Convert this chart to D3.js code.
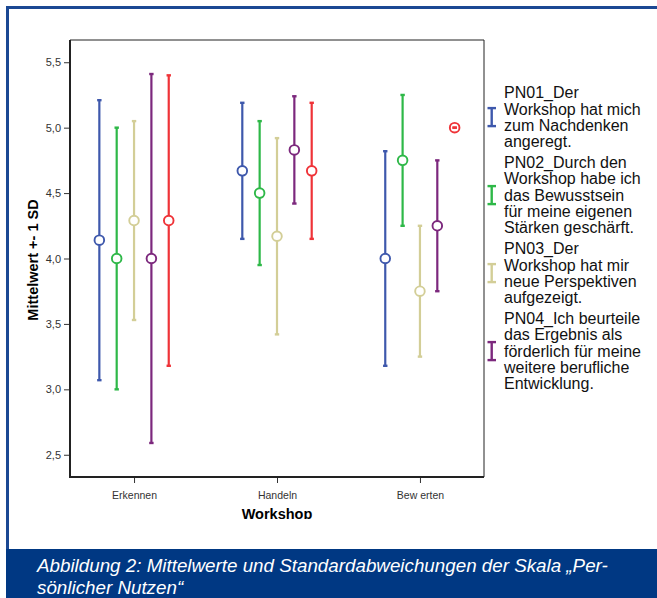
<!DOCTYPE html>
<html>
<head>
<meta charset="utf-8">
<script src="https://cdn.jsdelivr.net/npm/d3@7"></script>
<style>
    body { margin: 0; background: #fff; }
    svg { display: block; font-family: "Liberation Sans", Arial, sans-serif; }
</style>
</head>
<body>
<div id="chart"></div>
<script>
// workshop phases on the x axis
const categories = ['Erkennen', 'Handeln', 'Bew erten']

// items, the last one has no legend entry in the figure
const seriesKeys = ['PN01', 'PN02', 'PN03', 'PN04', 'PN05']
const seriesColors = ['#3e58ac', '#2eb848', '#d3ce97', '#7c287d', '#ef3338']

// means per category
const pn01Mean = [4.14, 4.67, 4.00]
const pn02Mean = [4.00, 4.50, 4.75]
const pn03Mean = [4.29, 4.17, 3.75]
const pn04Mean = [4.00, 4.83, 4.25]
const pn05Mean = [4.29, 4.67, 5.00]

// standard deviations per category
const pn01SD = [1.07, 0.52, 0.82]
const pn02SD = [1.00, 0.55, 0.50]
const pn03SD = [0.76, 0.75, 0.50]
const pn04SD = [1.41, 0.41, 0.50]
const pn05SD = [1.11, 0.52, 0.00]

const yTicks = [2.5, 3.0, 3.5, 4.0, 4.5, 5.0, 5.5]

const legendLabels = [
    ['PN01_Der', 'Workshop hat mich', 'zum Nachdenken', 'angeregt.'],
    ['PN02_Durch den', 'Workshop habe ich', 'das Bewusstsein', 'für meine eigenen', 'Stärken geschärft.'],
    ['PN03_Der', 'Workshop hat mir', 'neue Perspektiven', 'aufgezeigt.'],
    ['PN04_Ich beurteile', 'das Ergebnis als', 'förderlich für meine', 'weitere berufliche', 'Entwicklung.']
]

const captionLines = [
    'Abbildung 2: Mittelwerte und Standardabweichungen der Skala \u201EPer-',
    's\u00F6nlicher Nutzen\u201C'
]

const means = [pn01Mean, pn02Mean, pn03Mean, pn04Mean, pn05Mean]
const sds = [pn01SD, pn02SD, pn03SD, pn04SD, pn05SD]

const data = []
seriesKeys.forEach((key, s) => {
    categories.forEach((cat, c) => {
        data.push({key: key, cat: cat, color: seriesColors[s], mean: means[s][c], sd: sds[s][c]})
    })
})

const width = 657
const height = 598
const plot = {left: 70, right: 484, top: 40, bottom: 477}

const svg = d3.select('#chart').append('svg')
    .attr('width', width)
    .attr('height', height)

svg.append('rect').attr('width', width).attr('height', height).attr('fill', '#fff')

//blue frame of the figure
svg.append('line')
    .attr('x1', 6).attr('x2', width).attr('y1', 7.5).attr('y2', 7.5)
    .attr('stroke', '#1b4893').attr('stroke-width', 3)
svg.append('line')
    .attr('x1', 7.5).attr('x2', 7.5).attr('y1', 6).attr('y2', 550)
    .attr('stroke', '#1b4893').attr('stroke-width', 3)

//caption box
svg.append('rect')
    .attr('x', 6).attr('y', 549).attr('width', width - 6).attr('height', height - 549)
    .attr('fill', '#003883')
svg.append('g')
    .selectAll('text')
    .data(captionLines)
    .join('text')
    .attr('x', 37)
    .attr('y', (_, i) => 572 + i * 22)
    .attr('fill', '#fff')
    .style('font-size', '18.8px')
    .style('font-style', 'italic')
    .text(d => d)

//the chart image is cut just below the axis title
svg.append('clipPath').attr('id', 'clip')
    .append('rect').attr('x', 0).attr('y', 0).attr('width', width).attr('height', 519)
const chart = svg.append('g').attr('clip-path', 'url(#clip)')

//scales
const x = d3.scalePoint()
    .domain(categories)
    .range([plot.left, plot.right])
    .padding(0.448)

const offset = d3.scalePoint()
    .domain(seriesKeys)
    .range([-34.7, 34.7])

const y = d3.scaleLinear()
    .domain([2.33, 5.67])
    .range([plot.bottom, plot.top])

//axes
chart.append('g')
    .attr('transform', `translate(${plot.left},0)`)
    .call(d3.axisLeft(y).tickValues(yTicks).tickSize(6).tickPadding(3)
        .tickFormat(d => d3.format('.1f')(d).replace('.', ',')))
    .call(g => g.select('.domain').remove())
    .call(g => g.selectAll('.tick line').attr('stroke', '#333'))
    .call(g => g.selectAll('.tick text')
        .attr('fill', '#333')
        .style('font-size', '11px')
        .style('font-family', '"Liberation Sans", Arial, sans-serif'))

chart.append('g')
    .attr('transform', `translate(0,${plot.bottom})`)
    .call(d3.axisBottom(x).tickSize(6).tickPadding(9))
    .call(g => g.select('.domain').remove())
    .call(g => g.selectAll('.tick line').attr('stroke', '#333'))
    .call(g => g.selectAll('.tick text')
        .attr('fill', '#333')
        .style('font-size', '10.5px')
        .style('font-family', '"Liberation Sans", Arial, sans-serif'))

//frame of the plot area
chart.append('path')
    .attr('d', `M${plot.left},${plot.top}H${plot.right}V${plot.bottom}`)
    .attr('fill', 'none').attr('stroke', '#222').attr('stroke-width', 1)
chart.append('path')
    .attr('d', `M${plot.left},${plot.top}V${plot.bottom}H${plot.right}`)
    .attr('fill', 'none').attr('stroke', '#222').attr('stroke-width', 2)

//axis titles
chart.append('text')
    .attr('x', (plot.left + plot.right) / 2)
    .attr('y', 518.5)
    .attr('text-anchor', 'middle')
    .style('font-size', '14.5px')
    .style('font-weight', 'bold')
    .text('Workshop')

chart.append('text')
    .attr('transform', `translate(38,260) rotate(-90)`)
    .attr('text-anchor', 'middle')
    .style('font-size', '14.5px')
    .style('font-weight', 'bold')
    .text('Mittelwert +- 1 SD')

//error bars
const cx = d => x(d.cat) + offset(d.key)

chart.append('g')
    .selectAll('line')
    .data(data)
    .join('line')
    .attr('x1', cx).attr('x2', cx)
    .attr('y1', d => y(d.mean - d.sd))
    .attr('y2', d => y(d.mean + d.sd))
    .attr('stroke', d => d.color)
    .attr('stroke-width', 2.2)

chart.append('g')
    .selectAll('circle')
    .data(data)
    .join('circle')
    .attr('cx', cx)
    .attr('cy', d => y(d.mean))
    .attr('r', 4.8)
    .attr('fill', '#fff')
    .attr('stroke', d => d.color)
    .attr('stroke-width', 1.9)

chart.append('g')
    .selectAll('line')
    .data(data.flatMap(d => [{d: d, v: d.mean - d.sd}, {d: d, v: d.mean + d.sd}]))
    .join('line')
    .attr('x1', e => cx(e.d) - 2.2).attr('x2', e => cx(e.d) + 2.2)
    .attr('y1', e => y(e.v)).attr('y2', e => y(e.v))
    .attr('stroke', e => e.d.color)
    .attr('stroke-width', 2.4)

//legend
const lineHeight = 16.2
const groupGap = 21.3
let baseline = 98.3
const legend = svg.append('g')
legendLabels.forEach((lines, i) => {
    const first = baseline
    const last = baseline + (lines.length - 1) * lineHeight
    const cy = (first - 11 + last) / 2
    const sym = legend.append('g').attr('stroke', seriesColors[i]).attr('stroke-width', 2.4)
    sym.append('line').attr('x1', 491.7).attr('x2', 491.7).attr('y1', cy - 9).attr('y2', cy + 9)
    sym.append('line').attr('x1', 487.5).attr('x2', 496).attr('y1', cy - 9).attr('y2', cy - 9)
    sym.append('line').attr('x1', 487.5).attr('x2', 496).attr('y1', cy + 9).attr('y2', cy + 9)

    legend.append('g')
        .selectAll('text')
        .data(lines)
        .join('text')
        .attr('x', 504)
        .attr('y', (_, j) => first + j * lineHeight)
        .attr('fill', '#111')
        .style('font-size', '16px')
        .text(d => d)

    baseline = last + groupGap
})
</script>
</body>
</html>
